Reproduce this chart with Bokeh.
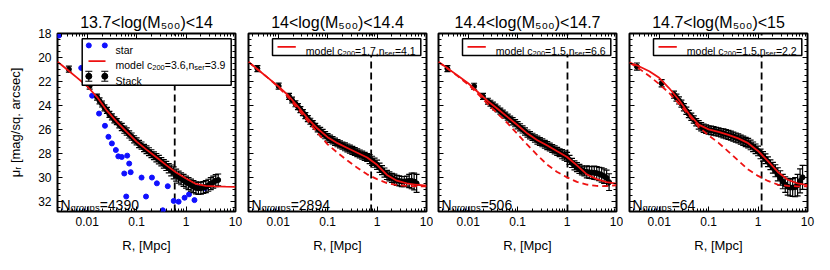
from bokeh.plotting import figure
from bokeh.layouts import row
from bokeh.models import (Range1d, FixedTicker, CustomJSTickFormatter, LinearAxis,
                          LogAxis, Label, ColumnDataSource)
from bokeh.embed import file_html
from bokeh.resources import INLINE

# ---------------- data (log10 R in Mpc, surface brightness mu in mag/sq. arcsec) ----------------
titles = ["13.7<log(M₅₀₀)<14", "14<log(M₅₀₀)<14.4", "14.4<log(M₅₀₀)<14.7", "14.7<log(M₅₀₀)<15"]
c200_vals = ["3.6", "1.7", "1.5", "1.5"]
nser_vals = ["3.9", "4.1", "6.6", "2.2"]
ngroups = ["4390", "2894", "506", "64"]
r500 = [0.59, 0.76, 1.02, 1.18]
stack_half_bin_dex = 0.04

model_logr = [-2.6, -2.4, -2.2, -2.0, -1.8, -1.6, -1.4, -1.2, -1.0, -0.8,
              -0.6, -0.4, -0.2, 0.0, 0.2, 0.4, 0.6, 0.8, 1.0]
model1_mu = [20.35, 21.02, 21.70, 22.40, 23.30, 24.44, 25.38, 26.20, 27.02, 27.69,
             28.33, 28.98, 29.60, 30.10, 30.55, 30.72, 30.76, 30.78, 30.79]
model2_mu = [20.38, 21.05, 21.72, 22.40, 23.15, 24.10, 25.10, 25.95, 26.65, 27.15,
             27.55, 27.95, 28.35, 28.95, 29.80, 30.28, 30.50, 30.62, 30.70]
model2_dash = [20.38, 21.05, 21.72, 22.45, 23.30, 24.30, 25.30, 26.30, 27.25, 27.95,
               28.60, 29.20, 29.75, 30.15, 30.48, 30.65, 30.72, 30.75, 30.75]
model3_mu = [20.38, 20.95, 21.55, 22.15, 22.90, 23.65, 24.30, 24.98, 25.65, 26.35,
             26.90, 27.35, 27.83, 28.30, 29.00, 29.75, 30.15, 30.40, 30.53]
model3_dash = [20.38, 20.98, 21.60, 22.25, 23.05, 23.90, 24.70, 25.50, 26.40, 27.30,
               28.15, 28.95, 29.55, 30.00, 30.38, 30.60, 30.72, 30.73, 30.66]
model4_mu = [20.43, 20.75, 21.15, 21.70, 22.55, 23.55, 24.70, 25.60, 26.00, 26.20,
             26.45, 26.75, 27.15, 27.80, 28.65, 29.55, 30.20, 30.50, 30.65]
model4_dash = [20.43, 20.95, 21.55, 22.22, 22.95, 23.85, 24.80, 25.80, 26.50, 27.12,
               27.85, 28.60, 29.35, 29.88, 30.30, 30.60, 30.72, 30.75, 30.75]

star_logr = [-2.57, -2.12, -1.90, -1.76, -1.64, -1.57, -1.50, -1.42, -1.37, -1.30,
             -1.19, -1.15, -1.25, -1.21, -1.12, -0.90, -0.81, -0.69, -0.59, -0.47,
             -0.37, -0.25, -0.15, -0.03, 0.06, 0.17, 0.26, 0.38]
star_mu = [18.17, 20.87, 23.19, 24.68, 25.70, 26.62, 27.17, 27.72, 28.25, 28.30,
           28.19, 28.85, 29.68, 31.60, 29.57, 30.02, 31.60, 30.02, 30.50, 32.75,
           30.74, 31.97, 32.03, 31.70, 31.42, 31.90, 30.80, 30.92]

stack1_logr = [-2.37, -1.95,
               -1.80, -1.75, -1.70, -1.65, -1.60, -1.55, -1.50, -1.45, -1.40, -1.35,
               -1.30, -1.25, -1.20, -1.15, -1.10, -1.05, -1.00, -0.95, -0.90, -0.85,
               -0.80, -0.75, -0.70, -0.65, -0.60, -0.55, -0.50, -0.45, -0.40, -0.35,
               -0.30, -0.25, -0.20, -0.15, -0.10, -0.05, 0.00, 0.05, 0.10, 0.15,
               0.20, 0.25, 0.30, 0.35, 0.40, 0.45, 0.50, 0.55, 0.60, 0.65]
stack1_mu = [20.98, 22.39,
             23.30, 23.62, 23.88, 24.20, 24.42, 24.75, 24.95, 25.20, 25.36, 25.62,
             25.80, 26.02, 26.18, 26.42, 26.60, 26.83, 27.00, 27.22, 27.35, 27.55,
             27.70, 27.86, 28.03, 28.20, 28.36, 28.52, 28.70, 28.88, 29.05, 29.24,
             29.42, 29.62, 29.82, 29.98, 30.12, 30.26, 30.40, 30.52, 30.65, 30.78,
             30.88, 30.92, 30.90, 30.85, 30.78, 30.66, 30.52, 30.40, 30.28, 30.22]
stack1_err = [0.25, 0.25,
              0.25, 0.25, 0.25, 0.25, 0.25, 0.25, 0.25, 0.25, 0.25, 0.25,
              0.30, 0.30, 0.30, 0.30, 0.30, 0.30, 0.30, 0.30, 0.30, 0.30,
              0.33, 0.33, 0.33, 0.33, 0.35, 0.35, 0.35, 0.35, 0.38, 0.38,
              0.45, 0.50, 0.50, 0.50, 0.50, 0.50, 0.50, 0.50, 0.50, 0.50,
              0.50, 0.50, 0.50, 0.50, 0.50, 0.50, 0.50, 0.50, 0.50, 0.50]

stack2_logr = [-2.42, -1.99, -1.78, -1.72,
               -1.65, -1.60, -1.55, -1.50, -1.45, -1.40, -1.35, -1.30, -1.25, -1.20,
               -1.15, -1.10, -1.05, -1.00, -0.95, -0.90, -0.85, -0.80, -0.75, -0.70,
               -0.65, -0.60, -0.55, -0.50, -0.45, -0.40, -0.35, -0.30, -0.25, -0.20,
               -0.15, -0.10, -0.05, 0.00, 0.05, 0.10, 0.15, 0.20, 0.25, 0.30,
               0.35, 0.40, 0.45, 0.50, 0.55, 0.60, 0.65, 0.70, 0.75, 0.80]
stack2_mu = [20.93, 22.39, 23.25, 23.55,
             23.86, 24.10, 24.35, 24.60, 24.85, 25.10, 25.32, 25.52, 25.74, 25.95,
             26.13, 26.30, 26.48, 26.65, 26.78, 26.90, 27.03, 27.15, 27.25, 27.35,
             27.45, 27.55, 27.65, 27.75, 27.85, 27.95, 28.05, 28.15, 28.25, 28.35,
             28.48, 28.62, 28.78, 28.95, 29.20, 29.40, 29.60, 29.80, 29.92, 30.05,
             30.15, 30.25, 30.30, 30.35, 30.35, 30.32, 30.30, 30.30, 30.35, 30.50]
stack2_err = [0.25, 0.25, 0.25, 0.25,
              0.25, 0.25, 0.25, 0.25, 0.25, 0.25, 0.25, 0.25, 0.25, 0.25,
              0.30, 0.30, 0.30, 0.30, 0.30, 0.30, 0.30, 0.30, 0.30, 0.30,
              0.33, 0.33, 0.33, 0.33, 0.33, 0.33, 0.33, 0.33, 0.33, 0.33,
              0.38, 0.38, 0.38, 0.38, 0.38, 0.38, 0.38, 0.38, 0.38, 0.38,
              0.42, 0.42, 0.42, 0.42, 0.42, 0.42, 0.55, 0.65, 0.70, 0.75]

stack3_logr = [-2.42, -1.88, -1.70,
               -1.60, -1.55, -1.50, -1.45, -1.40, -1.35, -1.30, -1.25, -1.20, -1.15,
               -1.10, -1.05, -1.00, -0.95, -0.90, -0.85, -0.80, -0.75, -0.70, -0.65,
               -0.60, -0.55, -0.50, -0.45, -0.40, -0.35, -0.30, -0.25, -0.20, -0.15,
               -0.10, -0.05, 0.00, 0.05, 0.10, 0.15, 0.20, 0.25, 0.30, 0.35,
               0.40, 0.45, 0.50, 0.55, 0.60, 0.65, 0.70, 0.75, 0.80, 0.85]
stack3_mu = [20.93, 22.40, 23.25,
             23.65, 23.82, 23.98, 24.14, 24.30, 24.47, 24.64, 24.81, 24.98, 25.15,
             25.32, 25.48, 25.65, 25.83, 26.00, 26.18, 26.35, 26.49, 26.62, 26.76,
             26.90, 27.01, 27.12, 27.24, 27.35, 27.47, 27.59, 27.71, 27.83, 27.95,
             28.07, 28.18, 28.30, 28.55, 28.80, 29.00, 29.15, 29.30, 29.42, 29.50,
             29.55, 29.58, 29.60, 29.62, 29.65, 29.72, 29.80, 29.90, 30.05, 30.40]
stack3_err = [0.25, 0.25, 0.25,
              0.25, 0.25, 0.25, 0.25, 0.25, 0.25, 0.25, 0.25, 0.25, 0.25,
              0.30, 0.30, 0.30, 0.30, 0.30, 0.30, 0.30, 0.30, 0.30, 0.30,
              0.33, 0.33, 0.33, 0.33, 0.33, 0.33, 0.33, 0.33, 0.33, 0.33,
              0.38, 0.38, 0.38, 0.38, 0.38, 0.38, 0.38, 0.38, 0.38, 0.38,
              0.50, 0.50, 0.50, 0.55, 0.55, 0.55, 0.60, 0.60, 0.65, 0.70]

stack4_logr = [-2.45, -1.95,
               -1.70, -1.65, -1.60, -1.55, -1.50, -1.45, -1.40, -1.35, -1.30, -1.25,
               -1.20, -1.15, -1.10, -1.05, -1.00, -0.95, -0.90, -0.85, -0.80, -0.75,
               -0.70, -0.65, -0.60, -0.55, -0.50, -0.45, -0.40, -0.35, -0.30, -0.25,
               -0.20, -0.15, -0.10, -0.05, 0.00, 0.05, 0.10, 0.15, 0.20, 0.25,
               0.30, 0.35, 0.40, 0.45, 0.50, 0.55, 0.60, 0.65, 0.70, 0.75,
               0.80, 0.85, 0.90]
stack4_mu = [20.76, 22.15,
             23.10, 23.35, 23.58, 23.85, 24.15, 24.45, 24.72, 24.95, 25.18, 25.40,
             25.62, 25.78, 25.90, 25.98, 26.05, 26.08, 26.12, 26.18, 26.22, 26.28,
             26.33, 26.40, 26.46, 26.52, 26.60, 26.68, 26.75, 26.85, 26.95, 27.05,
             27.15, 27.30, 27.45, 27.62, 27.80, 28.05, 28.25, 28.45, 28.70, 28.95,
             29.20, 29.45, 29.75, 30.05, 30.35, 30.60, 30.78, 30.85, 30.85, 30.82,
             30.65, 30.30, 30.00]
stack4_err = [0.30, 0.30,
              0.30, 0.30, 0.30, 0.30, 0.30, 0.30, 0.30, 0.30, 0.30, 0.30,
              0.35, 0.35, 0.35, 0.35, 0.35, 0.35, 0.35, 0.35, 0.35, 0.35,
              0.38, 0.38, 0.38, 0.38, 0.38, 0.38, 0.38, 0.38, 0.38, 0.38,
              0.40, 0.40, 0.40, 0.40, 0.40, 0.40, 0.40, 0.40, 0.40, 0.40,
              0.45, 0.50, 0.55, 0.60, 0.60, 0.65, 0.70, 0.70, 0.75, 0.80,
              0.90, 1.00, 1.00]

# ---------------- layout constants ----------------
LX0, LX1 = -2.6, 1.0
Y_TOP, Y_BOT = 18.0, 32.85
FW, FH = 178, 179
B_TOP, B_BOT = 33, 43
FONT = "Liberation Sans"

ADV = {'.': 278, '<': 584, '=': 584, ',': 278, '(': 333, ')': 333, ' ': 278,
       'l': 222, 'o': 556, 'g': 556, 'M': 833, 'N': 722, 'r': 333, 'u': 556,
       'p': 556, 's': 500, 'm': 833, 'd': 556, 'e': 556, 'c': 500, 'n': 556,
       'S': 667, 't': 278, 'a': 556, 'k': 500}


def tw(s, size):
    return sum(ADV.get(ch, 556) for ch in s) * size / 1000.0


def fx(px):
    return 10 ** (LX0 + px * (LX1 - LX0) / FW)


def fy(py):
    return Y_TOP + py * (Y_BOT - Y_TOP) / FH


def rich(p, segs, x, y, dx=0.0, dy=0.0):
    off = 0.0
    for t, size, sub in segs:
        p.add_layout(Label(x=x, y=y, x_offset=dx + off, y_offset=dy - sub, text=t,
                           text_font=FONT, text_font_size=f"{size}px",
                           text_align="left", text_baseline="alphabetic",
                           text_color="black"))
        off += tw(t, size)


def style_axis(ax, labels):
    ax.major_tick_in = 5
    ax.major_tick_out = 0
    ax.minor_tick_in = 3
    ax.minor_tick_out = 0
    ax.major_tick_line_color = "black"
    ax.minor_tick_line_color = "black"
    ax.axis_line_color = None
    ax.major_label_text_font = FONT
    if labels:
        ax.major_label_text_color = "black"
        ax.major_label_text_font_size = "12px"
        ax.major_label_standoff = 5
    else:
        ax.major_label_text_alpha = 0.0
        ax.major_label_text_font_size = "1px"
        ax.major_label_standoff = 0


def xticker():
    return FixedTicker(ticks=[0.01, 0.1, 1, 10],
                       minor_ticks=[k * 10 ** e for e in range(-3, 1) for k in range(2, 10)])


def yticker():
    return FixedTicker(ticks=[18, 20, 22, 24, 26, 28, 30, 32],
                       minor_ticks=[18 + 0.5 * i for i in range(30)])


def draw_stack(p, logr, mu, err):
    src = ColumnDataSource(dict(x=[10 ** v for v in logr], y=mu,
                                xl=[10 ** (v - stack_half_bin_dex) for v in logr],
                                xr=[10 ** (v + stack_half_bin_dex) for v in logr],
                                lo=[m - e for m, e in zip(mu, err)],
                                hi=[m + e for m, e in zip(mu, err)]))
    p.segment(x0="x", y0="lo", x1="x", y1="hi", source=src, line_color="black", line_width=1.2)
    p.segment(x0="xl", y0="y", x1="xr", y1="y", source=src, line_color="black", line_width=1.2)
    p.scatter(x="x", y="lo", source=src, marker="dash", size=6, line_color="black", line_width=1.2)
    p.scatter(x="x", y="hi", source=src, marker="dash", size=6, line_color="black", line_width=1.2)
    p.scatter(x="x", y="y", source=src, marker="circle", size=5,
              fill_color="black", line_color="black")


borders = [(57, 7), (6, 7), (5, 7), (6, 8)]
stacks = [(stack1_logr, stack1_mu, stack1_err), (stack2_logr, stack2_mu, stack2_err),
          (stack3_logr, stack3_mu, stack3_err), (stack4_logr, stack4_mu, stack4_err)]
models = [model1_mu, model2_mu, model3_mu, model4_mu]
dashes = [None, model2_dash, model3_dash, model4_dash]

figs = []
for i in range(4):
    bl, br = borders[i]
    p = figure(x_axis_type="log", x_range=Range1d(10 ** LX0, 10 ** LX1),
               y_range=Range1d(Y_BOT, Y_TOP), width=bl + FW + br, height=B_TOP + FH + B_BOT,
               min_border_left=bl, min_border_right=br, min_border_top=B_TOP,
               min_border_bottom=B_BOT, output_backend="svg", toolbar_location=None,
               title=titles[i], background_fill_color="white", border_fill_color="white")
    p.title.align = "center"
    p.title.text_font = FONT
    p.title.text_font_size = "16px"
    p.title.text_font_style = "normal"
    p.title.text_color = "black"
    p.title.standoff = 5
    p.grid.visible = False
    p.outline_line_color = "black"
    p.outline_line_width = 2
    p.outline_line_alpha = 1.0

    xa = p.xaxis[0]
    xa.ticker = xticker()
    xa.formatter = CustomJSTickFormatter(code="return tick.toString();")
    style_axis(xa, True)
    xa.axis_label = "R, [Mpc]"
    xa.axis_label_text_font = FONT
    xa.axis_label_text_font_size = "13px"
    xa.axis_label_text_font_style = "normal"
    xa.axis_label_text_color = "black"
    xa.axis_label_standoff = 9

    ya = p.yaxis[0]
    ya.ticker = yticker()
    style_axis(ya, i == 0)
    if i == 0:
        ya.major_label_standoff = 6
        ya.axis_label = "μᵣ [mag/sq. arcsec]"
        ya.axis_label_text_font = FONT
        ya.axis_label_text_font_size = "13px"
        ya.axis_label_text_font_style = "normal"
        ya.axis_label_text_color = "black"
        ya.axis_label_standoff = 12

    ra = LinearAxis(ticker=yticker())
    style_axis(ra, False)
    p.add_layout(ra, "right")
    ta = LogAxis(ticker=xticker())
    style_axis(ta, False)
    p.add_layout(ta, "above")

    # R500 marker
    p.segment(x0=[r500[i]], y0=[Y_BOT], x1=[r500[i]], y1=[Y_TOP], line_color="black",
              line_width=1.8, line_dash="7 4")

    if i == 0:
        p.scatter(x=[10 ** v for v in star_logr], y=star_mu, size=5,
                  fill_color="#1010ff", line_color="#1010ff")

    draw_stack(p, *stacks[i])

    mx = [10 ** v for v in model_logr]
    if dashes[i] is not None:
        p.line(mx, dashes[i], line_color="#ee1111", line_width=1.8, line_dash="6 4")
    p.line(mx, models[i], line_color="#ee1111", line_width=1.8)

    # legend
    model_segs = [("model c", 10.5, 0), ("200", 7.5, 2.5), ("=" + c200_vals[i] + ",n", 10.5, 0),
                  ("ser", 7.5, 2.5), ("=" + nser_vals[i], 10.5, 0)]
    if i == 0:
        p.quad(left=fx(24.7), right=fx(173.7), top=fy(5.3), bottom=fy(52),
               fill_color="white", line_color="black", line_width=1.5)
        p.scatter(x=[fx(31.3), fx(47.3)], y=[fy(12), fy(12)], size=5,
                  fill_color="#1010ff", line_color="#1010ff")
        p.line([fx(31), fx(48)], [fy(27.7), fy(27.7)], line_color="#ee1111", line_width=1.8)
        lx = [fx(31.3), fx(47.3)]
        p.segment(x0=lx, y0=[fy(38)] * 2, x1=lx, y1=[fy(48)] * 2, line_color="black", line_width=1)
        p.scatter(x=lx + lx, y=[fy(38)] * 2 + [fy(48)] * 2, marker="dash", size=7,
                  line_color="black", line_width=1)
        p.scatter(x=lx, y=[fy(43)] * 2, size=6, fill_color="black", line_color="black")
        rich(p, [("star", 10.5, 0)], 10 ** LX0, Y_TOP, dx=58, dy=-16)
        rich(p, model_segs, 10 ** LX0, Y_TOP, dx=58, dy=-31.5)
        rich(p, [("Stack", 10.5, 0)], 10 ** LX0, Y_TOP, dx=58, dy=-47)
    else:
        p.quad(left=fx(24), right=fx(172.3), top=fy(5.3), bottom=fy(22),
               fill_color="white", line_color="black", line_width=1.5)
        p.line([fx(29), fx(47.3)], [fy(13.5), fy(13.5)], line_color="#ee1111", line_width=1.8)
        rich(p, model_segs, 10 ** LX0, Y_TOP, dx=57.3, dy=-17.5)

    # N groups
    rich(p, [("N", 14, 0), ("groups", 9.5, 3), ("=" + ngroups[i], 14, 0)],
         10 ** LX0, Y_TOP, dx=3, dy=-171)
    figs.append(p)

layout = row(*figs)
open("out.html", "w").write(file_html(layout, INLINE))
